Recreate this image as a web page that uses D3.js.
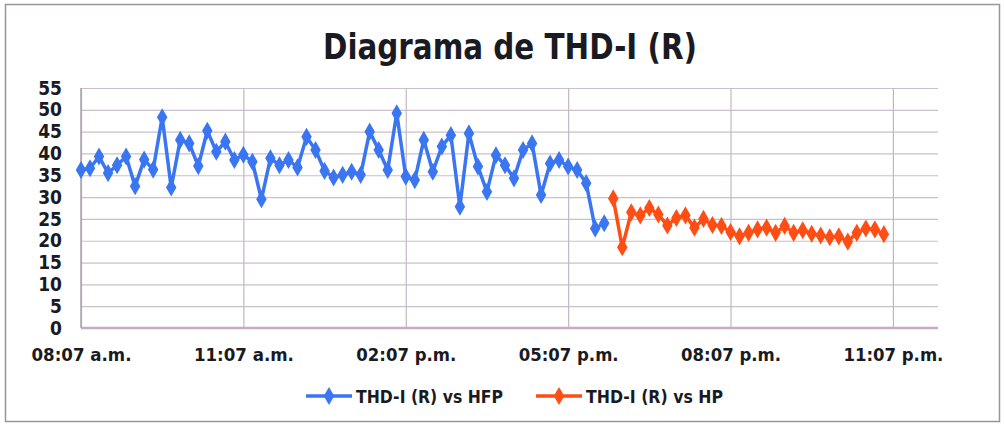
<!DOCTYPE html>
<html>
<head>
<meta charset="utf-8">
<script src="https://cdn.jsdelivr.net/npm/d3@7"></script>
<style>
  body { margin: 0; background: #fff; }
  text { font-family: "DejaVu Sans Condensed", "Liberation Sans Narrow", "Open Sans", sans-serif; font-weight: bold; fill: #1a1a22; }
</style>
</head>
<body>
<div id="chart"></div>
<script>
// x tick labels (every 18 readings of 10 min)
const tickLabels = ["08:07 a.m.", "11:07 a.m.", "02:07 p.m.", "05:07 p.m.", "08:07 p.m.", "11:07 p.m."];
const tickIndex = [0, 18, 36, 54, 72, 90];
const yTicks = [0, 5, 10, 15, 20, 25, 30, 35, 40, 45, 50, 55];

// THD-I (R) vs HFP, readings 0..58
const hfp = [36.2, 36.6, 39.3, 35.5, 37.3, 39.3, 32.5, 38.6, 36.3, 48.3,
             32.2, 43.1, 42.3, 37.1, 45.2, 40.4, 42.7, 38.5, 39.7, 38.1,
             29.5, 38.9, 37.3, 38.5, 36.8, 43.8, 40.8, 36.0, 34.5, 35.1,
             35.8, 35.1, 45.0, 40.8, 36.2, 49.2, 34.7, 33.9, 43.1, 35.8,
             41.6, 44.2, 27.8, 44.6, 37.0, 31.2, 39.6, 37.3, 34.3, 40.8,
             42.3, 30.5, 37.7, 38.5, 37.0, 36.2, 33.2, 22.8, 24.0];
// THD-I (R) vs HP, readings 59..89
const hp = [29.7, 18.5, 26.5, 25.8, 27.5, 26.0, 23.5, 25.2, 25.8, 23.0,
            25.0, 23.6, 23.4, 22.0, 21.0, 21.8, 22.6, 23.0, 21.8, 23.4,
            21.8, 22.4, 21.6, 21.2, 20.8, 21.0, 19.8, 21.8, 22.8, 22.6, 21.5];
const hpStart = 59;

const W = 1004, H = 424;
const margin = {top: 88, right: 66, bottom: 96, left: 81};
const width = W - margin.left - margin.right,
      height = H - margin.top - margin.bottom;

const svg = d3.select("#chart").append("svg")
    .attr("width", W)
    .attr("height", H);

// chart frame
svg.append("rect")
    .attr("x", 5.5).attr("y", 4.5)
    .attr("width", 994).attr("height", 417)
    .attr("fill", "none")
    .attr("stroke", "#9a949a")
    .attr("stroke-width", 1.5);

// title
svg.append("text")
    .attr("x", 510).attr("y", 59)
    .attr("text-anchor", "middle")
    .attr("font-size", 35)
    .attr("textLength", 374)
    .attr("lengthAdjust", "spacingAndGlyphs")
    .text("Diagrama de THD-I (R)");

const g = svg.append("g")
    .attr("transform", "translate(" + margin.left + "," + margin.top + ")");

const x = d3.scaleLinear().domain([0, 95]).range([0, width]);
const y = d3.scaleLinear().domain([0, 55]).range([height, 0]);

// horizontal gridlines + y labels
const yAxis = g.append("g")
    .call(d3.axisLeft(y).tickValues(yTicks).tickSize(-width).tickPadding(19));
yAxis.select(".domain").remove();
yAxis.selectAll("line").attr("stroke", "#c9c0ca").attr("stroke-width", 1.2);
yAxis.selectAll("text")
    .attr("font-size", 19)
    .attr("fill", "#1a1a22")
    .attr("font-family", null);

// vertical gridlines + x labels
const xAxis = g.append("g")
    .attr("transform", "translate(0," + height + ")")
    .call(d3.axisBottom(x).tickValues(tickIndex)
        .tickFormat((d, i) => tickLabels[i])
        .tickSize(-height).tickPadding(20));
xAxis.select(".domain").remove();
xAxis.selectAll("line").attr("stroke", "#c2b8c4").attr("stroke-width", 1.2);
xAxis.selectAll("text")
    .attr("font-size", 18)
    .attr("fill", "#1a1a22")
    .attr("textLength", 100)
    .attr("lengthAdjust", "spacingAndGlyphs");

// axis lines
g.append("line")
    .attr("x1", 0).attr("x2", width)
    .attr("y1", height).attr("y2", height)
    .attr("stroke", "#c8a9c8").attr("stroke-width", 2.5);
g.append("line")
    .attr("x1", 0).attr("x2", 0)
    .attr("y1", 0).attr("y2", height)
    .attr("stroke", "#aaa2ac").attr("stroke-width", 1.5);

const blue = "#3a76f2", orange = "#ff4d14";

const line = d3.line()
    .x(d => x(d.i))
    .y(d => y(d.v));

const series = [
  {color: blue, pts: hfp.map((v, i) => ({i: i, v: v}))},
  {color: orange, pts: hp.map((v, i) => ({i: hpStart + i, v: v}))}
];

const diamond = d3.symbol().type(d3.symbolDiamond).size(95);

series.forEach(s => {
  g.append("path")
      .datum(s.pts)
      .attr("fill", "none")
      .attr("stroke", s.color)
      .attr("stroke-width", 3.5)
      .attr("stroke-linejoin", "round")
      .attr("d", line);
  g.selectAll(null)
      .data(s.pts)
    .enter().append("path")
      .attr("transform", d => "translate(" + x(d.i) + "," + y(d.v) + ")")
      .attr("d", diamond)
      .attr("fill", s.color);
});

// legend
const legend = [
  {label: "THD-I (R) vs HFP", color: blue, x: 306, tw: 147},
  {label: "THD-I (R) vs HP", color: orange, x: 536, tw: 137}
];
const lg = svg.selectAll(".legend")
    .data(legend)
  .enter().append("g")
    .attr("class", "legend")
    .attr("transform", d => "translate(" + d.x + ",396)");
lg.append("line")
    .attr("x1", 0).attr("x2", 46)
    .attr("stroke", d => d.color)
    .attr("stroke-width", 3.5);
lg.append("path")
    .attr("transform", "translate(23,0)")
    .attr("d", diamond)
    .attr("fill", d => d.color);
lg.append("text")
    .attr("x", 50).attr("y", 7)
    .attr("font-size", 18)
    .attr("textLength", d => d.tw)
    .attr("lengthAdjust", "spacingAndGlyphs")
    .text(d => d.label);
</script>
</body>
</html>
